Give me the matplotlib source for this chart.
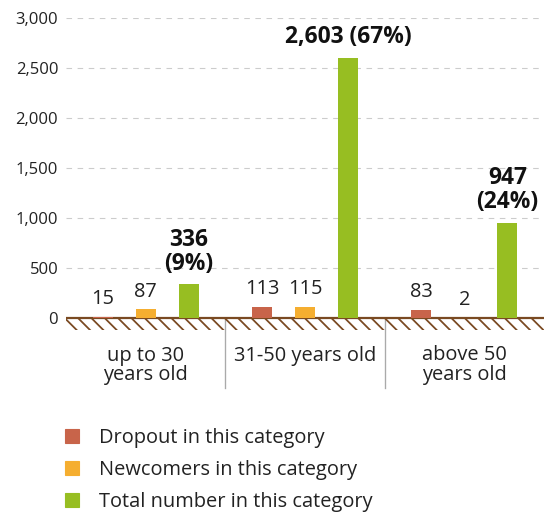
import matplotlib.pyplot as plt
import numpy as np
from matplotlib.patches import Rectangle, Patch

# data
categories = ['up to 30\nyears old', '31-50 years old', 'above 50\nyears old']
dropout = [15, 113, 83]
newcomers = [87, 115, 2]
total = [336, 2603, 947]
total_labels = ['336\n(9%)', '2,603 (67%)', '947\n(24%)']
series_names = ['Dropout in this category', 'Newcomers in this category',
                'Total number in this category']
colors = ['#C8644A', '#F5AE30', '#97BE22']

plt.rcParams['font.family'] = ['Open Sans', 'DejaVu Sans']
plt.rcParams['hatch.linewidth'] = 1.6
plt.rcParams['hatch.color'] = '#7A4A22'

fig = plt.figure(figsize=(6.8, 6.4375), dpi=80)
ax = fig.add_axes([66 / 544, 1 - 330 / 515, 1 - 66 / 544, (330 - 18) / 515])

x = np.arange(len(categories))
offset = 0.27
width = 0.125

for i, (vals, col) in enumerate(zip([dropout, newcomers, total], colors)):
    bars = ax.bar(x + (i - 1) * offset, vals, width, color=col, zorder=5)
    if i < 2:
        for b, v in zip(bars, vals):
            ax.annotate(f'{v:,}', (b.get_x() + b.get_width() / 2, v),
                        xytext=(0, 7), textcoords='offset points',
                        ha='center', va='bottom', fontsize=18, color='#222222')
    else:
        for b, v, lab in zip(bars, vals, total_labels):
            ax.annotate(lab, (b.get_x() + b.get_width() / 2, v),
                        xytext=(0, 8), textcoords='offset points',
                        ha='center', va='bottom', fontsize=20.5, fontweight='bold',
                        color='#111111', linespacing=1.0)

# hatched ground below zero
ax.add_patch(Rectangle((-0.5, -120), 3, 120, facecolor='none', edgecolor='#7A4A22',
                       hatch='\\\\', linewidth=0, zorder=2))
ax.axhline(0, color='#7A4A22', lw=2, zorder=4)

# group separators and category labels
for sep in [0.5, 1.5]:
    ax.plot([sep, sep], [0, -700], color='#AAAAAA', lw=1.2, clip_on=False, zorder=1)
for xi, cat in zip(x, categories):
    ax.text(xi, -275, cat, ha='center', va='top', fontsize=18, color='#222222',
            linespacing=0.95)

ax.set_xlim(-0.5, 2.5)
ax.set_ylim(-120, 3000)
ax.set_yticks(np.arange(0, 3001, 500))
ax.set_yticklabels([f'{v:,}' for v in range(0, 3001, 500)])
ax.tick_params(axis='y', length=0, pad=7, labelsize=15, labelcolor='#222222')
ax.set_xticks([])
ax.yaxis.grid(True, color='#CCCCCC', linestyle=(0, (5, 5)), lw=1, zorder=0)
for s in ax.spines.values():
    s.set_visible(False)

handles = [Patch(color=c) for c in colors]
fig.legend(handles, series_names, loc='upper left', bbox_to_anchor=(47 / 544, 1 - 410 / 515),
           frameon=False, fontsize=18, handlelength=0.72, handleheight=0.72,
           handletextpad=0.98, labelspacing=0.6, labelcolor='#222222')

fig.savefig('out.png', dpi=80)
